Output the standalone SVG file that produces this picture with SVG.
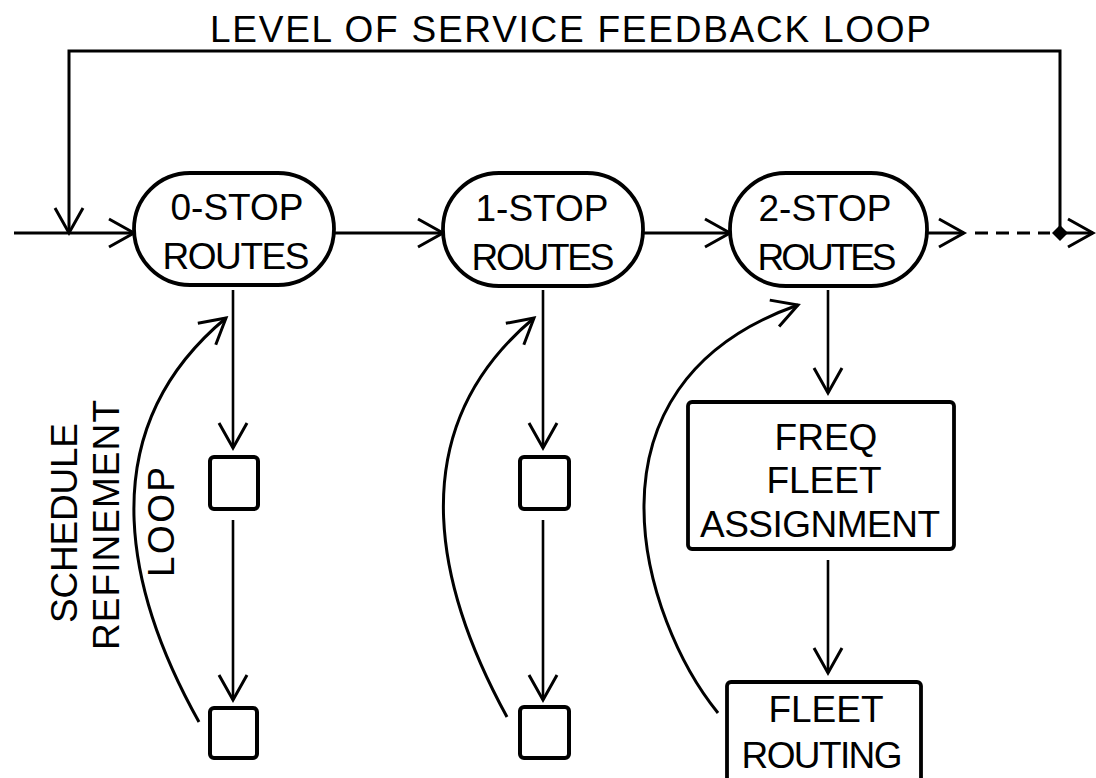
<svg xmlns="http://www.w3.org/2000/svg" width="1096" height="778" viewBox="0 0 1096 778">
<style>
text{font-family:"Liberation Sans",Arial,sans-serif;font-size:37px;fill:#000}
.node{fill:#fff;stroke:#000;stroke-width:3.8}
.sq{fill:#fff;stroke:#000;stroke-width:4}
.ln{fill:none;stroke:#000;stroke-width:3}
.thin{fill:none;stroke:#000;stroke-width:2.6}
</style>
<defs>
<marker id="v" markerUnits="userSpaceOnUse" markerWidth="40" markerHeight="40" viewBox="-30 -20 40 40" refX="0" refY="0" orient="auto" overflow="visible">
<path d="M-25,-14 L0,0 L-25,14" fill="none" stroke="#000" stroke-width="3"/>
</marker>
</defs>
<rect width="1096" height="778" fill="#fff"/>
<text id="title" x="210" y="42" textLength="721" lengthAdjust="spacing">LEVEL OF SERVICE FEEDBACK LOOP</text>
<g id="connectors">
<path class="ln" d="M1060,233 V51 H69 V233" marker-end="url(#v)"/>
<path class="ln" d="M14,233 H134" marker-end="url(#v)"/>
<path class="ln" d="M334,233 H443" marker-end="url(#v)"/>
<path class="ln" d="M643,233 H730" marker-end="url(#v)"/>
<path class="ln" d="M927,233 H964" marker-end="url(#v)"/>
<path class="ln" d="M975,233 H1050" stroke-dasharray="13 8"/>
<path class="ln" d="M1060,233 H1093" marker-end="url(#v)"/>
<path d="M1060,225 L1068,233 L1060,241 L1052,233 Z" fill="#000"/>
<path class="thin" d="M233,290 V448" marker-end="url(#v)"/>
<path class="thin" d="M233,520 V700" marker-end="url(#v)"/>
<path class="thin" d="M543,290 V448" marker-end="url(#v)"/>
<path class="thin" d="M543,520 V700" marker-end="url(#v)"/>
<path class="thin" d="M828,290 V393" marker-end="url(#v)"/>
<path class="thin" d="M828,560 V673" marker-end="url(#v)"/>
<path class="ln" d="M199,722 C133,604 83,437 226,318" marker-end="url(#v)"/>
<path class="ln" d="M507,717 C443,600 393,436 534,318" marker-end="url(#v)"/>
<path class="ln" d="M718,713 C643,621 569,386 798,305" marker-end="url(#v)"/>
</g>
<g id="n0">
<rect class="node" x="134" y="173" width="200" height="112" rx="56"/>
<text x="237" y="220" text-anchor="middle">0-STOP</text>
<text x="236" y="269" text-anchor="middle" textLength="147">ROUTES</text>
</g>
<g id="n1">
<rect class="node" x="443" y="173" width="200" height="113" rx="56"/>
<text x="542" y="221" text-anchor="middle">1-STOP</text>
<text x="543" y="270" text-anchor="middle" textLength="143">ROUTES</text>
</g>
<g id="n2">
<rect class="node" x="730" y="173" width="197" height="113" rx="56"/>
<text x="825" y="221" text-anchor="middle">2-STOP</text>
<text x="827" y="270" text-anchor="middle" textLength="139">ROUTES</text>
</g>
<g id="s0a"><rect class="sq" x="210" y="457" width="48" height="52" rx="4"/></g>
<g id="s0b"><rect class="sq" x="210" y="708" width="47" height="50" rx="4"/></g>
<g id="s1a"><rect class="sq" x="520" y="457" width="49" height="52" rx="4"/></g>
<g id="s1b"><rect class="sq" x="520" y="707" width="49" height="51" rx="4"/></g>
<g id="freq">
<rect class="node" x="688" y="402" width="266" height="147" rx="4"/>
<text x="826" y="450" text-anchor="middle">FREQ</text>
<text x="824" y="493" text-anchor="middle">FLEET</text>
<text x="820" y="537" text-anchor="middle" textLength="240">ASSIGNMENT</text>
</g>
<g id="routing">
<rect class="node" x="727" y="682" width="194" height="120" rx="4"/>
<text x="826" y="722" text-anchor="middle">FLEET</text>
<text x="822" y="768" text-anchor="middle" textLength="161">ROUTING</text>
</g>
<g id="label">
<text transform="translate(77,523) rotate(-90)" text-anchor="middle" font-size="35" textLength="200">SCHEDULE</text>
<text transform="translate(119,525) rotate(-90)" text-anchor="middle" font-size="36" textLength="250">REFINEMENT</text>
<text transform="translate(174,522) rotate(-90)" text-anchor="middle" font-size="35" textLength="110">LOOP</text>
</g>
</svg>
